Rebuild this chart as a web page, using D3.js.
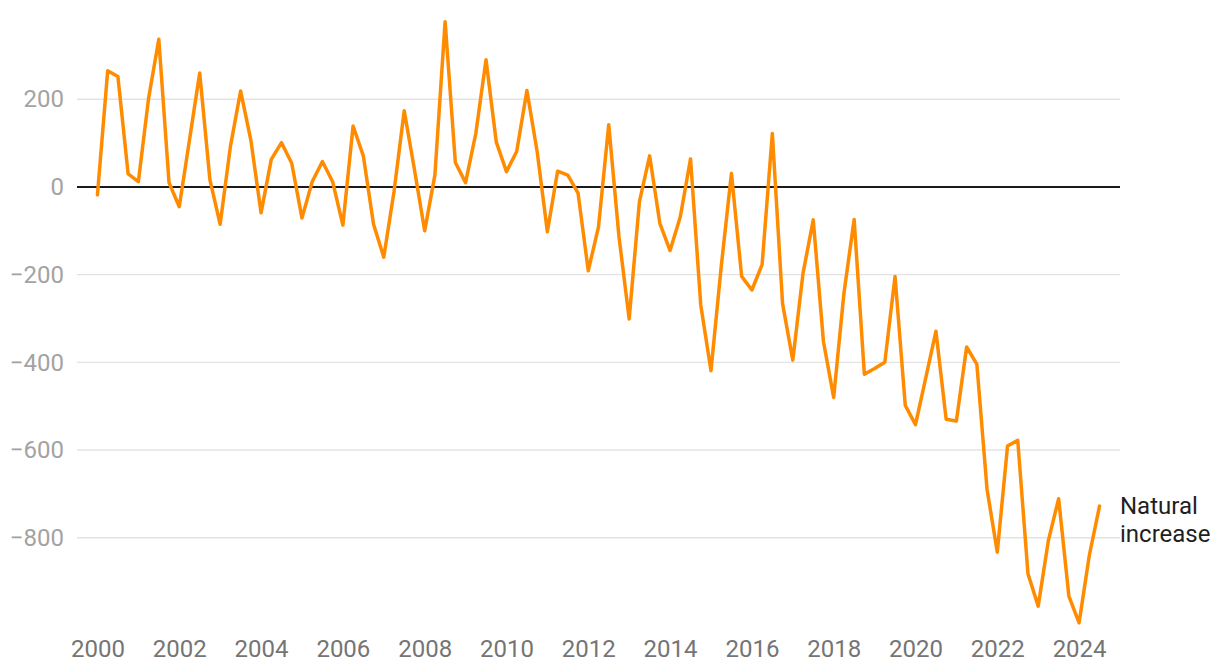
<!DOCTYPE html>
<html>
<head>
<meta charset="utf-8">
<script src="https://cdn.jsdelivr.net/npm/d3@7"></script>
<style>
  html, body { margin: 0; padding: 0; background: #fff; }
  svg { display: block; font-family: Roboto, "Noto Sans", sans-serif; }
</style>
</head>
<body>
<svg id="chart" width="1220" height="672"></svg>
<script>
// Quarterly natural increase, 2000 Q1 – 2024 Q3
const startYear = 2000;
const values = [
  -18, 265, 252, 30,
  12, 202, 337, 10,
  -45, 107, 260, 16,
  -85, 92, 219, 107,
  -59, 63, 101, 54,
  -71, 12, 58, 12,
  -87, 139, 71, -85,
  -160, -11, 174, 40,
  -100, 27, 377, 56,
  10, 122, 290, 103,
  35, 81, 220, 81,
  -102, 36, 27, -14,
  -191, -91, 142, -113,
  -301, -34, 71, -83,
  -145, -68, 64, -269,
  -419, -182, 31, -204,
  -235, -177, 122, -266,
  -395, -197, -75, -353,
  -480, -243, -74, -427,
  -414, -400, -204, -498,
  -542, -436, -329, -530,
  -534, -365, -404, -690,
  -833, -591, -578, -882,
  -956, -806, -711, -933,
  -994, -840, -728
];
const xTicks = [2000, 2002, 2004, 2006, 2008, 2010, 2012, 2014, 2016, 2018, 2020, 2022, 2024];
const yTicks = [200, 0, -200, -400, -600, -800];
const seriesLabel = ["Natural", "increase"];

const data = values.map((v, i) => ({ t: startYear + i / 4, v }));

const svg = d3.select("#chart");
const x = d3.scaleLinear().domain([1999.5, 2025]).range([77, 1120]);
const y = d3.scaleLinear().domain([-1000, 400]).range([625.4, 11.6]);

// gridlines
const grid = svg.append("g");
grid.selectAll("line")
  .data(yTicks.filter(d => d !== 0))
  .join("line")
  .attr("x1", x.range()[0]).attr("x2", x.range()[1])
  .attr("y1", d => y(d)).attr("y2", d => y(d))
  .attr("stroke", "#e3e3e3").attr("stroke-width", 1.4);

// y axis labels
const yAxis = svg.append("g")
  .attr("transform", "translate(64,0)")
  .call(d3.axisLeft(y).tickValues(yTicks).tickSize(0).tickPadding(0)
    .tickFormat(d => d < 0 ? "\u2212" + Math.abs(d) : String(d)));
yAxis.select(".domain").remove();
yAxis.selectAll("text")
  .attr("fill", "#a3a3a3")
  .attr("font-size", 24)
  .attr("font-family", "Roboto, sans-serif");

// x axis labels
const xAxis = svg.append("g")
  .attr("transform", "translate(0,640)")
  .call(d3.axisBottom(x).tickValues(xTicks).tickSize(0).tickPadding(0)
    .tickFormat(d3.format("d")));
xAxis.select(".domain").remove();
xAxis.selectAll("text")
  .attr("fill", "#757575")
  .attr("font-size", 24)
  .attr("font-family", "Roboto, sans-serif");

// zero line
svg.append("line")
  .attr("x1", x.range()[0]).attr("x2", x.range()[1])
  .attr("y1", y(0)).attr("y2", y(0))
  .attr("stroke", "#1a1a1a").attr("stroke-width", 2);

// series line
const line = d3.line().x(d => x(d.t)).y(d => y(d.v));
svg.append("path")
  .datum(data)
  .attr("fill", "none")
  .attr("stroke", "#ff8c00")
  .attr("stroke-width", 3.5)
  .attr("stroke-linejoin", "round")
  .attr("stroke-linecap", "round")
  .attr("d", line);

// series label
const lbl = svg.append("text")
  .attr("x", 1120)
  .attr("y", 514)
  .attr("fill", "#1f1f1f")
  .attr("font-size", 24)
  .attr("font-family", "Roboto, sans-serif");
lbl.selectAll("tspan")
  .data(seriesLabel)
  .join("tspan")
  .attr("x", 1120)
  .attr("dy", (d, i) => i === 0 ? 0 : 28)
  .text(d => d);
</script>
</body>
</html>
